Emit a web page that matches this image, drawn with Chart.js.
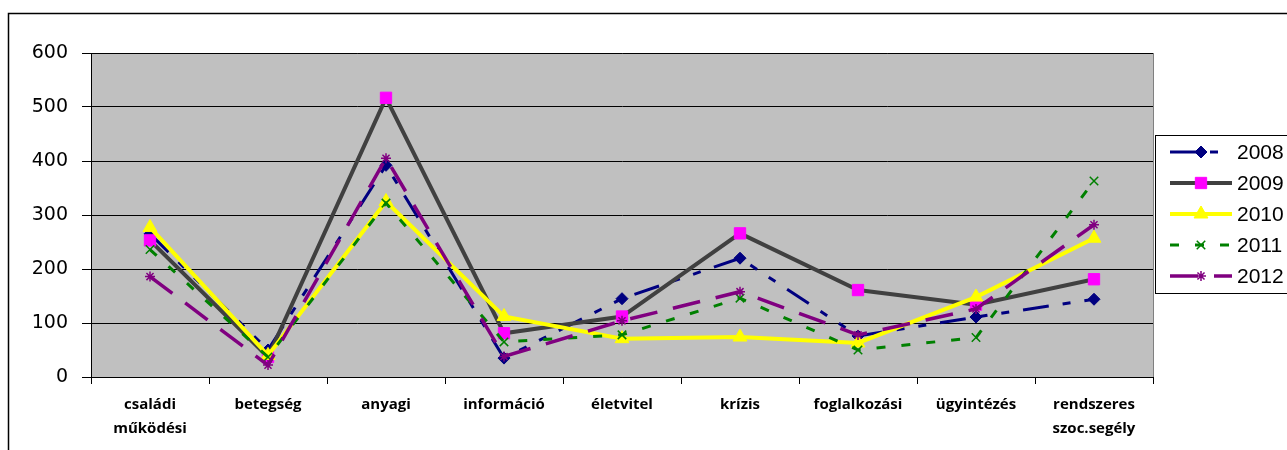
<!DOCTYPE html>
<html lang="hu">
<head>
  <meta charset="UTF-8" />
  <title>Esetek</title>
  <style>
    body { margin: 0; background: #fff; }
    #chart { display: block; }
  </style>
</head>
<body>
  <canvas id="chart" width="1287" height="450"></canvas>

  <script src="https://cdn.jsdelivr.net/npm/chart.js"></script>
  <script>
    // categories and values
    const categories = [
      ["családi", "működési"], "betegség", "anyagi", "információ", "életvitel",
      "krízis", "foglalkozási", "ügyintézés", ["rendszeres", "szoc.segély"]
    ];
    const years = ["2008", "2009", "2010", "2011", "2012"];
    const v2008 = [265, 50, 392, 35, 145, 220, 76, 111, 144];
    const v2009 = [253, 37, 517, 81, 112, 266, 161, 134, 181];
    const v2010 = [277, 40, 325, 112, 71, 74, 63, 148, 257];
    const v2011 = [236, 37, 322, 65, 78, 146, 50, 73, 363];
    const v2012 = [186, 22, 405, 38, 104, 158, 78, 126, 282];
    const yTicks = [0, 100, 200, 300, 400, 500, 600];

    const series = [
      { label: years[0], data: v2008, borderColor: "#000080", pointBackgroundColor: "#000080",
        borderWidth: 3, borderDash: [26, 14, 8, 14, 8, 14], pointStyle: "rectRot", pointRadius: 6, order: 5 },
      { label: years[1], data: v2009, borderColor: "#404040", pointBackgroundColor: "#ff00ff",
        borderWidth: 4, borderDash: [], pointStyle: "rect", pointRadius: 8, order: 4 },
      { label: years[2], data: v2010, borderColor: "#ffff00", pointBackgroundColor: "#ffff00",
        borderWidth: 4, borderDash: [], pointStyle: "triangle", pointRadius: 8, order: 3 },
      { label: years[3], data: v2011, borderColor: "#008000", pointBackgroundColor: "#008000",
        borderWidth: 3, borderDash: [9, 16], pointStyle: "crossRot", pointRadius: 6, order: 2 },
      { label: years[4], data: v2012, borderColor: "#800080", pointBackgroundColor: "#800080",
        borderWidth: 3.5, borderDash: [28, 16], pointStyle: "star", pointRadius: 5, order: 1 }
    ];

    const datasets = series.map(s => ({
      label: s.label,
      data: s.data,
      borderColor: s.borderColor,
      borderWidth: s.borderWidth,
      borderDash: s.borderDash,
      borderCapStyle: "butt",
      pointStyle: s.pointStyle,
      pointRadius: s.pointRadius,
      pointBackgroundColor: s.pointBackgroundColor,
      pointBorderColor: s.pointStyle === "rect" ? "#ff00ff" : s.borderColor,
      pointBorderWidth: s.pointStyle === "crossRot" || s.pointStyle === "star" ? 1.5 : 1,
      tension: 0,
      fill: false,
      order: s.order
    }));

    // white page, outer frame, grey plot area
    const backdrop = {
      id: "backdrop",
      beforeDraw(chart) {
        const { ctx, chartArea: a } = chart;
        ctx.save();
        ctx.fillStyle = "#fff";
        ctx.fillRect(0, 0, chart.width, chart.height);
        ctx.strokeStyle = "#000";
        ctx.lineWidth = 1.5;
        ctx.beginPath();
        ctx.moveTo(8.5, chart.height + 5);
        ctx.lineTo(8.5, 13.5);
        ctx.lineTo(chart.width + 5, 13.5);
        ctx.stroke();
        ctx.fillStyle = "#c0c0c0";
        ctx.fillRect(a.left, a.top, a.right - a.left, a.bottom - a.top);
        ctx.strokeStyle = "#808080";
        ctx.lineWidth = 1;
        ctx.strokeRect(a.left + 0.5, a.top + 0.5, a.right - a.left, a.bottom - a.top);
        ctx.restore();
      }
    };

    // Excel-style legend box on the right
    const sideLegend = {
      id: "sideLegend",
      afterDraw(chart) {
        const { ctx } = chart;
        ctx.save();
        ctx.fillStyle = "#fff";
        ctx.fillRect(1155, 135, 140, 158);
        ctx.strokeStyle = "#000";
        ctx.lineWidth = 1;
        ctx.strokeRect(1155.5, 135.5, 140, 158);
        chart.data.datasets.forEach((ds, i) => {
          const y = 152 + i * 31;
          ctx.strokeStyle = ds.borderColor;
          ctx.lineWidth = ds.borderWidth;
          ctx.setLineDash(ds.borderDash);
          ctx.lineCap = "butt";
          ctx.beginPath();
          ctx.moveTo(1170, y);
          ctx.lineTo(1232, y);
          ctx.stroke();
          ctx.setLineDash([]);
          ctx.fillStyle = ds.pointBackgroundColor;
          ctx.strokeStyle = ds.pointBorderColor;
          ctx.lineWidth = ds.pointBorderWidth;
          Chart.helpers.drawPoint(ctx, { pointStyle: ds.pointStyle, radius: ds.pointRadius, borderWidth: ds.pointBorderWidth }, 1201, y);
          ctx.fillStyle = "#000";
          ctx.font = "21px 'Liberation Sans', Arial, sans-serif";
          ctx.textBaseline = "middle";
          ctx.fillText(ds.label, 1237, y + 1);
        });
        ctx.restore();
      }
    };

    new Chart(document.getElementById("chart"), {
      type: "line",
      data: { labels: categories, datasets },
      options: {
        responsive: false,
        animation: false,
        devicePixelRatio: 1,
        layout: { padding: { left: 8, right: 134, top: 53, bottom: 0 } },
        plugins: {
          legend: { display: false },
          tooltip: { enabled: false }
        },
        scales: {
          x: {
            offset: true,
            afterFit: s => { s.height = 73; },
            grid: { offset: true, drawOnChartArea: false, drawTicks: true, tickLength: 7, color: "#000" },
            border: { display: true, color: "#000", width: 1 },
            ticks: {
              autoSkip: false,
              maxRotation: 0,
              padding: 9,
              color: "#000",
              font: { family: "'Open Sans', sans-serif", size: 15, weight: "bold", lineHeight: 1.6 }
            }
          },
          y: {
            min: yTicks[0],
            max: yTicks[yTicks.length - 1],
            afterFit: s => { s.width = 83; },
            afterBuildTicks: s => { s.ticks = yTicks.map(v => ({ value: v })); },
            grid: { color: "#000", tickLength: 9 },
            border: { display: true, color: "#000", width: 1 },
            ticks: {
              padding: 14,
              color: "#000",
              font: { family: "'DejaVu Sans', Verdana, sans-serif", size: 19 }
            }
          }
        }
      },
      plugins: [backdrop, sideLegend]
    });
  </script>
</body>
</html>
